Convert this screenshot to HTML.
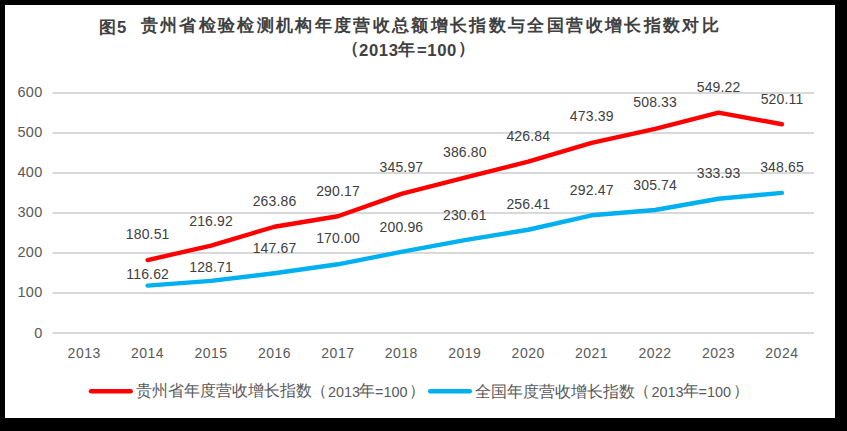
<!DOCTYPE html>
<html><head><meta charset="utf-8">
<style>
html,body{margin:0;padding:0;width:847px;height:431px;overflow:hidden;background:#000;}
#card{position:absolute;left:5px;top:5px;width:830px;height:413px;background:#fff;}
svg{position:absolute;left:0;top:0;}
.t{position:absolute;font-family:"Liberation Sans",sans-serif;white-space:nowrap;line-height:1;}
.yl{font-size:14.5px;letter-spacing:0.4px;color:#595959;text-align:right;width:42px;}
.xl{font-size:14px;letter-spacing:0.5px;color:#595959;text-align:center;width:60px;}
.dl{font-size:14px;letter-spacing:0.15px;color:#404040;text-align:center;width:80px;}
.ts{font-size:17.2px;letter-spacing:2.35px;font-weight:bold;color:#404040;}
.tn{font-size:16.7px;letter-spacing:0.6px;font-weight:bold;color:#404040;}
.lc{font-size:16.2px;color:#595959;}
.ln{font-size:14.4px;color:#595959;}
</style></head><body>
<div id="card"></div>
<svg width="847" height="431" viewBox="0 0 847 431">
<line x1="52.5" y1="333.0" x2="814" y2="333.0" stroke="#d9d9d9" stroke-width="2"/>
<line x1="52.5" y1="293.0" x2="814" y2="293.0" stroke="#d9d9d9" stroke-width="2"/>
<line x1="52.5" y1="253.0" x2="814" y2="253.0" stroke="#d9d9d9" stroke-width="2"/>
<line x1="52.5" y1="213.0" x2="814" y2="213.0" stroke="#d9d9d9" stroke-width="2"/>
<line x1="52.5" y1="173.0" x2="814" y2="173.0" stroke="#d9d9d9" stroke-width="2"/>
<line x1="52.5" y1="133.0" x2="814" y2="133.0" stroke="#d9d9d9" stroke-width="2"/>
<line x1="52.5" y1="93.0" x2="814" y2="93.0" stroke="#d9d9d9" stroke-width="2"/>
<polyline points="147.63,285.65 211.06,280.82 274.49,273.23 337.92,264.30 401.35,251.92 464.78,240.06 528.21,229.74 591.64,215.31 655.07,210.00 718.50,198.73 781.93,192.84" fill="none" stroke="#00B0F0" stroke-width="4.4" stroke-linecap="round" stroke-linejoin="round"/>
<polyline points="147.63,260.10 211.06,245.53 274.49,226.76 337.92,216.23 401.35,193.91 464.78,177.58 528.21,161.56 591.64,142.94 655.07,128.97 718.50,112.61 781.93,124.26" fill="none" stroke="#FF0000" stroke-width="4.4" stroke-linecap="round" stroke-linejoin="round"/>
<line x1="91" y1="391.3" x2="130.6" y2="391.3" stroke="#FF0000" stroke-width="4.5" stroke-linecap="round"/>
<line x1="430.2" y1="391.3" x2="469.8" y2="391.3" stroke="#00B0F0" stroke-width="4.5" stroke-linecap="round"/>
</svg>
<div class="t yl" style="left:0.8px;top:325.60px">0</div>
<div class="t yl" style="left:0.8px;top:285.43px">100</div>
<div class="t yl" style="left:0.8px;top:245.25px">200</div>
<div class="t yl" style="left:0.8px;top:205.07px">300</div>
<div class="t yl" style="left:0.8px;top:164.90px">400</div>
<div class="t yl" style="left:0.8px;top:124.72px">500</div>
<div class="t yl" style="left:0.8px;top:84.55px">600</div>
<div class="t xl" style="left:54.2px;top:345.5px">2013</div>
<div class="t xl" style="left:117.6px;top:345.5px">2014</div>
<div class="t xl" style="left:181.1px;top:345.5px">2015</div>
<div class="t xl" style="left:244.5px;top:345.5px">2016</div>
<div class="t xl" style="left:307.9px;top:345.5px">2017</div>
<div class="t xl" style="left:371.3px;top:345.5px">2018</div>
<div class="t xl" style="left:434.8px;top:345.5px">2019</div>
<div class="t xl" style="left:498.2px;top:345.5px">2020</div>
<div class="t xl" style="left:561.6px;top:345.5px">2021</div>
<div class="t xl" style="left:625.1px;top:345.5px">2022</div>
<div class="t xl" style="left:688.5px;top:345.5px">2023</div>
<div class="t xl" style="left:751.9px;top:345.5px">2024</div>
<div class="t dl" style="left:107.70px;top:227.3px">180.51</div>
<div class="t dl" style="left:107.70px;top:267.0px">116.62</div>
<div class="t dl" style="left:171.13px;top:213.5px">216.92</div>
<div class="t dl" style="left:171.13px;top:259.5px">128.71</div>
<div class="t dl" style="left:234.56px;top:194.0px">263.86</div>
<div class="t dl" style="left:234.56px;top:240.8px">147.67</div>
<div class="t dl" style="left:298.00px;top:183.8px">290.17</div>
<div class="t dl" style="left:298.00px;top:231.2px">170.00</div>
<div class="t dl" style="left:361.42px;top:160.2px">345.97</div>
<div class="t dl" style="left:361.42px;top:220.1px">200.96</div>
<div class="t dl" style="left:424.85px;top:144.6px">386.80</div>
<div class="t dl" style="left:424.85px;top:208.1px">230.61</div>
<div class="t dl" style="left:488.29px;top:129.1px">426.84</div>
<div class="t dl" style="left:488.29px;top:196.5px">256.41</div>
<div class="t dl" style="left:551.72px;top:109.1px">473.39</div>
<div class="t dl" style="left:551.72px;top:182.6px">292.47</div>
<div class="t dl" style="left:615.15px;top:95.2px">508.33</div>
<div class="t dl" style="left:615.15px;top:177.9px">305.74</div>
<div class="t dl" style="left:678.58px;top:79.5px">549.22</div>
<div class="t dl" style="left:678.58px;top:165.5px">333.93</div>
<div class="t dl" style="left:742.01px;top:91.7px">520.11</div>
<div class="t dl" style="left:742.01px;top:159.6px">348.65</div>
<div class="t ts" style="left:99px;top:18.5px">图</div>
<div class="t tn" style="left:117px;top:20px">5</div>
<div class="t ts" style="left:140.5px;top:17px">贵州省检验检测机构年度营收总额增长指数与全国营收增长指数对比</div>
<div class="t ts" style="left:341.5px;top:40px">（</div>
<div class="t tn" style="left:359px;top:43px">2013</div>
<div class="t ts" style="left:398px;top:41px">年</div>
<div class="t tn" style="left:417px;top:43px">=100</div>
<div class="t ts" style="left:458px;top:39.5px">）</div>
<div class="t lc" style="left:136px;top:382px">贵州省年度营收增长指数</div>
<div class="t lc" style="left:310.5px;top:382px">（</div>
<div class="t ln" style="left:328px;top:384.5px">2013</div>
<div class="t lc" style="left:359px;top:382px">年</div>
<div class="t ln" style="left:375px;top:384.5px">=100</div>
<div class="t lc" style="left:409px;top:382px">）</div>
<div class="t lc" style="left:475px;top:382.5px">全国年度营收增长指数</div>
<div class="t lc" style="left:633.5px;top:382px">（</div>
<div class="t ln" style="left:651.5px;top:384.5px">2013</div>
<div class="t lc" style="left:682.5px;top:382px">年</div>
<div class="t ln" style="left:698.5px;top:384.5px">=100</div>
<div class="t lc" style="left:732.5px;top:382px">）</div>
</body></html>
